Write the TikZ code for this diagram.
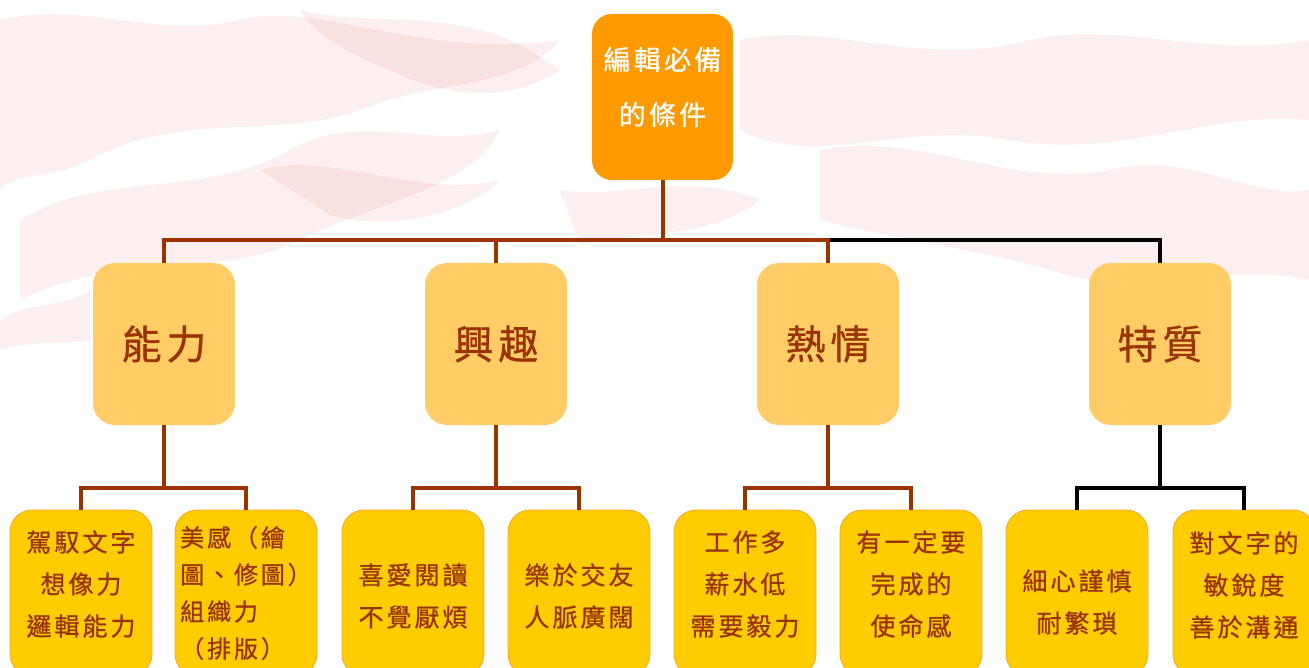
\documentclass[tikz,border=0pt]{standalone}
\usepackage{fontspec}
\newfontfamily\cjkb[LetterSpace=12,FakeBold=0.8]{Noto Sans CJK TC}
\definecolor{topfill}{HTML}{FF9900}
\definecolor{catfill}{HTML}{FFCC66}
\definecolor{leaffill}{HTML}{FFCC00}
\definecolor{leafline}{HTML}{F5A623}
\definecolor{txtred}{HTML}{993300}
\definecolor{brownline}{HTML}{993300}
\definecolor{pinkbg}{HTML}{EE9090}
\tikzset{
  topbox/.style={draw=none, fill=topfill, rounded corners=20pt, minimum width=141pt, minimum height=166pt, inner sep=0pt},
  toptext/.style={text=white, align=center, inner sep=0pt, font=\cjkb\fontsize{27}{55}\selectfont},
  catbox/.style={draw=none, fill=catfill, rounded corners=22pt, minimum width=142pt, minimum height=162pt,
     text=txtred, align=center, inner sep=0pt, font=\cjkb\fontsize{40}{48}\selectfont},
  leafbox/.style={draw=leafline, line width=0.8pt, fill=leaffill, rounded corners=22pt, minimum width=142pt, minimum height=166pt, inner sep=0pt},
  leaftext/.style={text=txtred, align=center, inner sep=0pt, font=\cjkb\fontsize{25}{42}\selectfont},
  link/.style={draw=brownline, line width=4pt},
  blink/.style={draw=black, line width=4pt},
  blob/.style={fill=pinkbg, opacity=0.14, draw=none}
}
\begin{document}
\begin{tikzpicture}[x=1pt,y=-1pt]
\useasboundingbox (0,0) rectangle (1309,668);
\clip (0,0) rectangle (1309,668);
\fill[white] (0,0) rectangle (1309,668);
% faint watercolour background
\fill[blob] (0,20) .. controls (80,0) and (160,40) .. (240,20) .. controls (320,0) and (420,60) .. (560,40)
  .. controls (520,90) and (430,80) .. (360,110) .. controls (280,140) and (180,110) .. (90,160) .. controls (50,180) and (20,170) .. (0,190) -- cycle;
\fill[blob] (20,220) .. controls (100,170) and (200,200) .. (290,150) .. controls (360,110) and (430,150) .. (500,130)
  .. controls (470,190) and (380,200) .. (300,240) .. controls (220,280) and (120,250) .. (20,300) -- cycle;
\fill[blob] (260,170) .. controls (330,150) and (420,200) .. (500,180) .. controls (460,220) and (380,230) .. (330,215) -- cycle;
\fill[blob] (300,10) .. controls (380,30) and (470,0) .. (560,70) .. controls (500,110) and (430,90) .. (390,70) .. controls (340,50) and (310,30) .. (300,10) -- cycle;
\fill[blob] (740,40) .. controls (830,20) and (920,70) .. (1030,40) .. controls (1120,20) and (1210,60) .. (1309,40)
  -- (1309,120) .. controls (1210,110) and (1120,160) .. (1010,140) .. controls (900,120) and (820,170) .. (740,130) -- cycle;
\fill[blob] (820,150) .. controls (920,130) and (1010,190) .. (1110,170) .. controls (1190,150) and (1250,200) .. (1309,190)
  -- (1309,280) .. controls (1230,260) and (1140,300) .. (1050,270) .. controls (980,250) and (900,240) .. (820,220) -- cycle;
\fill[blob] (560,190) .. controls (620,200) and (690,170) .. (760,200) .. controls (710,240) and (640,230) .. (580,245) -- cycle;
\fill[blob] (0,320) .. controls (30,300) and (60,310) .. (90,290) -- (90,340) .. controls (60,345) and (30,340) .. (0,350) -- cycle;

% nodes
\node[topbox] (top) at (662.5,97) {};
\node[toptext] (topt) at ([yshift=10pt]top.center) {編輯必備\\的條件};

\node[catbox] (nl) at (164,344) {能力};
\node[catbox] (xq) at (496,344) {興趣};
\node[catbox] (rq) at (828,344) {熱情};
\node[catbox] (tz) at (1160,344) {特質};

\node[leafbox] (a1) at (81,593) {};
\node[leafbox] (a2) at (246,593) {};
\node[leafbox] (b1) at (413,593) {};
\node[leafbox] (b2) at (579,593) {};
\node[leafbox] (c1) at (745,593) {};
\node[leafbox] (c2) at (911,593) {};
\node[leafbox] (d1) at (1077,593) {};
\node[leafbox] (d2) at (1244,593) {};

\node[leaftext] (a1t) at ([yshift=9pt]a1.center) {駕馭文字\\想像力\\邏輯能力};
\node[leaftext, align=left, font=\cjkb\fontsize{24}{37}\selectfont] (a2t) at (a2.center) {美感（繪\\圖、修圖）\\組織力\\（排版）};
\node[leaftext] (b1t) at ([yshift=-3pt]b1.center) {喜愛閱讀\\不覺厭煩};
\node[leaftext] (b2t) at ([yshift=-3pt]b2.center) {樂於交友\\人脈廣闊};
\node[leaftext] (c1t) at ([yshift=9pt]c1.center) {工作多\\薪水低\\需要毅力};
\node[leaftext] (c2t) at ([yshift=9pt]c2.center) {有一定要\\完成的\\使命感};
\node[leaftext] (d1t) at ([yshift=-9pt]d1.center) {細心謹慎\\耐繁瑣};
\node[leaftext] (d2t) at ([yshift=8pt]d2.center) {對文字的\\敏銳度\\善於溝通};

% connectors
\coordinate (bar) at (662.5,240);
\draw[blink] (bar) -| (tz.north);
\draw[link] (top.south) -- (bar);
\draw[link] (bar) -| (nl.north);
\draw[link] (bar) -| (xq.north);
\draw[link] (bar) -| (rq.north);

\draw[link] (nl.south) -- ++(0,63) coordinate (nlb);
\draw[link] (nlb) -| (a1.north);
\draw[link] (nlb) -| (a2.north);
\draw[link] (xq.south) -- ++(0,63) coordinate (xqb);
\draw[link] (xqb) -| (b1.north);
\draw[link] (xqb) -| (b2.north);
\draw[link] (rq.south) -- ++(0,63) coordinate (rqb);
\draw[link] (rqb) -| (c1.north);
\draw[link] (rqb) -| (c2.north);
\draw[blink] (tz.south) -- ++(0,63) coordinate (tzb);
\draw[blink] (tzb) -| (d1.north);
\draw[blink] (tzb) -| (d2.north);
\end{tikzpicture}
\end{document}
